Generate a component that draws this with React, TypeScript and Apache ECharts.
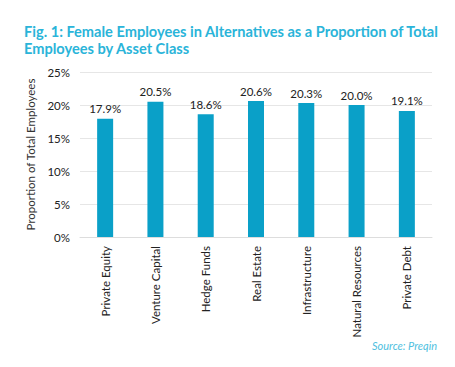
import React, { useEffect, useRef } from "react";
import * as echarts from "echarts";

const categories = ["Private Equity", "Venture Capital", "Hedge Funds", "Real Estate", "Infrastructure", "Natural Resources", "Private Debt"];
const values = [17.9, 20.5, 18.6, 20.6, 20.3, 20.0, 19.1];

export default function App() {
  const ref = useRef<HTMLDivElement>(null);
  useEffect(() => {
    document.body.style.margin = "0";
    const chart = echarts.init(ref.current!, null, { renderer: "svg" });
    chart.setOption({
      animation: false,
      textStyle: { fontFamily: "Lato" },
      graphic: [
        {
          type: "text",
          left: 24,
          top: 23,
          style: {
            text: "Fig. 1: Female Employees in Alternatives as a Proportion of Total\nEmployees by Asset Class",
            fill: "#2ab4d9",
            font: "bold 14.6px Lato",
            lineHeight: 17,
          },
        },
        {
          type: "text",
          right: 18,
          top: 340,
          style: {
            text: "Source: Preqin",
            fill: "#4fbfe0",
            font: "italic 11px Lato",
          },
        },
      ],
      grid: { left: 80, right: 23, top: 72, bottom: 130 },
      xAxis: {
        type: "category",
        data: categories,
        axisTick: { show: false },
        axisLine: { lineStyle: { color: "#dddddd" } },
        axisLabel: { rotate: 90, color: "#222", fontSize: 11.5, margin: 9 },
      },
      yAxis: {
        type: "value",
        min: 0,
        max: 25,
        interval: 5,
        name: "Proportion of Total Employees",
        nameLocation: "middle",
        nameGap: 44,
        nameTextStyle: { color: "#333", fontSize: 11.5 },
        axisLabel: { formatter: "{value}%", color: "#222", fontSize: 11.5, margin: 10 },
        splitLine: { lineStyle: { color: "#e6e6e6" } },
      },
      series: [
        {
          type: "bar",
          data: values,
          barWidth: 16,
          itemStyle: { color: "#0aa0c8" },
          label: {
            show: true,
            position: "top",
            formatter: (p: any) => p.value.toFixed(1) + "%",
            color: "#222",
            fontSize: 11.5,
            distance: 4,
          },
        },
      ],
    });
    return () => chart.dispose();
  }, []);
  return <div ref={ref} style={{ width: 455, height: 367 }} />;
}
